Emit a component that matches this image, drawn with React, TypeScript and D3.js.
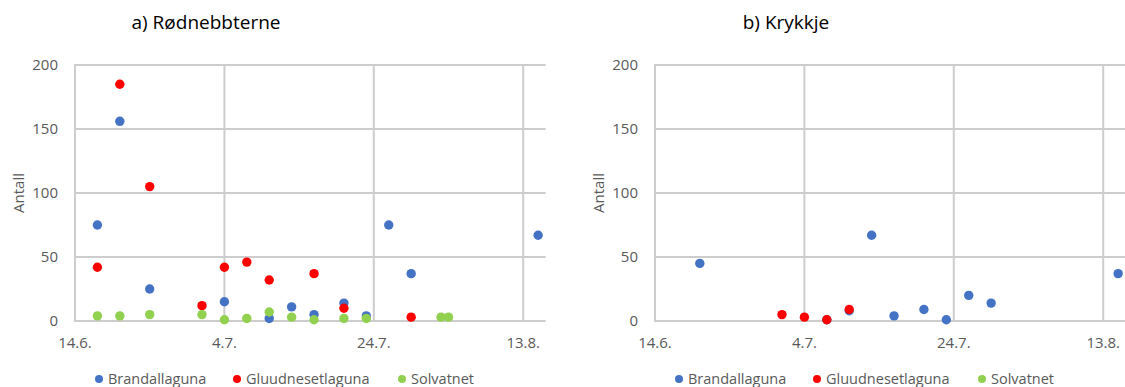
import React from "react";
import * as d3 from "d3";

// dates are dd.mm. (the year does not matter)
const parseDay = d3.timeParse("%d.%m.");

const seriesNames = ["Brandallaguna", "Gluudnesetlaguna", "Solvatnet"];
const seriesColors = ["#4472C4", "#FF0000", "#92D050"];

// a) Rødnebbterne
const ternBrandDates = ["17.6.", "20.6.", "24.6.", "4.7.", "10.7.", "13.7.", "16.7.", "20.7.", "23.7.", "26.7.", "29.7.", "15.8."];
const ternBrandValues = [75, 156, 25, 15, 2, 11, 5, 14, 4, 75, 37, 67];
const ternGluudDates = ["17.6.", "20.6.", "24.6.", "1.7.", "4.7.", "7.7.", "10.7.", "16.7.", "20.7.", "29.7."];
const ternGluudValues = [42, 185, 105, 12, 42, 46, 32, 37, 10, 3];
const ternSolvDates = ["17.6.", "20.6.", "24.6.", "1.7.", "4.7.", "7.7.", "10.7.", "13.7.", "16.7.", "20.7.", "23.7.", "2.8.", "3.8."];
const ternSolvValues = [4, 4, 5, 5, 1, 2, 7, 3, 1, 2, 2, 3, 3];

// b) Krykkje
const kittBrandDates = ["20.6.", "7.7.", "10.7.", "13.7.", "16.7.", "20.7.", "23.7.", "26.7.", "29.7.", "15.8."];
const kittBrandValues = [45, 1, 8, 67, 4, 9, 1, 20, 14, 37];
const kittGluudDates = ["1.7.", "4.7.", "7.7.", "10.7."];
const kittGluudValues = [5, 3, 1, 9];
const kittSolvDates: string[] = [];
const kittSolvValues: number[] = [];

const xTickLabels = ["14.6.", "4.7.", "24.7.", "13.8."];
const yTicks = [0, 50, 100, 150, 200];
const xStart = "14.6.";
const xEnd = "16.8.";

const font = "'Open Sans', sans-serif";
const textColor = "#595959";
const gridColor = "#cdcdcd";

type Series = { dates: string[]; values: number[] };

function Panel(props: { title: string; offset: number; series: Series[] }) {
  const left = props.offset + 75,
    top = 65,
    bottom = 321;
  const x = d3
    .scaleTime()
    .domain([parseDay(xStart)!, parseDay(xEnd)!])
    .range([left, left + 63 * 7.47]);
  const y = d3.scaleLinear().domain([0, 200]).range([bottom, top]);

  let grid: JSX.Element[] = [];
  yTicks.forEach((t, i) => {
    grid.push(<line key={"h" + i} x1={left - 1} x2={x.range()[1]} y1={y(t)} y2={y(t)} stroke={gridColor} strokeWidth={2} />);
  });
  xTickLabels.forEach((t, i) => {
    const px = x(parseDay(t)!);
    grid.push(<line key={"v" + i} x1={px} x2={px} y1={top - 1} y2={bottom} stroke={gridColor} strokeWidth={2} />);
  });

  const yLabels = yTicks.map((t, i) => (
    <text key={i} x={left - 17} y={y(t)} dy="0.35em" textAnchor="end" fontSize={15} fill={textColor}>
      {t}
    </text>
  ));
  const xLabels = xTickLabels.map((t, i) => (
    <text key={i} x={x(parseDay(t)!)} y={348} textAnchor="middle" fontSize={15} fill={textColor}>
      {t}
    </text>
  ));

  const dots: JSX.Element[] = [];
  props.series.forEach((s, si) => {
    s.dates.forEach((d, i) => {
      dots.push(<circle key={si + "-" + i} cx={x(parseDay(d)!)} cy={y(s.values[i])} r={4.7} fill={seriesColors[si]} />);
    });
  });

  const legendX = [99, 237, 402];

  return (
    <g fontFamily={font}>
      <text x={props.offset + 206} y={29} textAnchor="middle" fontSize={19} fill="#000">
        {props.title}
      </text>
      {grid}
      {yLabels}
      {xLabels}
      <text transform={`translate(${props.offset + 24},${(top + bottom) / 2}) rotate(-90)`} textAnchor="middle" fontSize={15} fill={textColor}>
        Antall
      </text>
      {dots}
      {seriesNames.map((n, i) => (
        <g key={n}>
          <circle cx={props.offset + legendX[i]} cy={379} r={4} fill={seriesColors[i]} />
          <text x={props.offset + legendX[i] + 9} y={384} fontSize={14.5} fill={textColor}>
            {n}
          </text>
        </g>
      ))}
    </g>
  );
}

export default function App() {
  return (
    <svg width={1125} height={387} style={{ position: "absolute", left: 0, top: 0, background: "#fff" }}>
      <Panel
        title="a) Rødnebbterne"
        offset={0}
        series={[
          { dates: ternBrandDates, values: ternBrandValues },
          { dates: ternGluudDates, values: ternGluudValues },
          { dates: ternSolvDates, values: ternSolvValues },
        ]}
      />
      <Panel
        title="b) Krykkje"
        offset={580}
        series={[
          { dates: kittBrandDates, values: kittBrandValues },
          { dates: kittGluudDates, values: kittGluudValues },
          { dates: kittSolvDates, values: kittSolvValues },
        ]}
      />
    </svg>
  );
}
